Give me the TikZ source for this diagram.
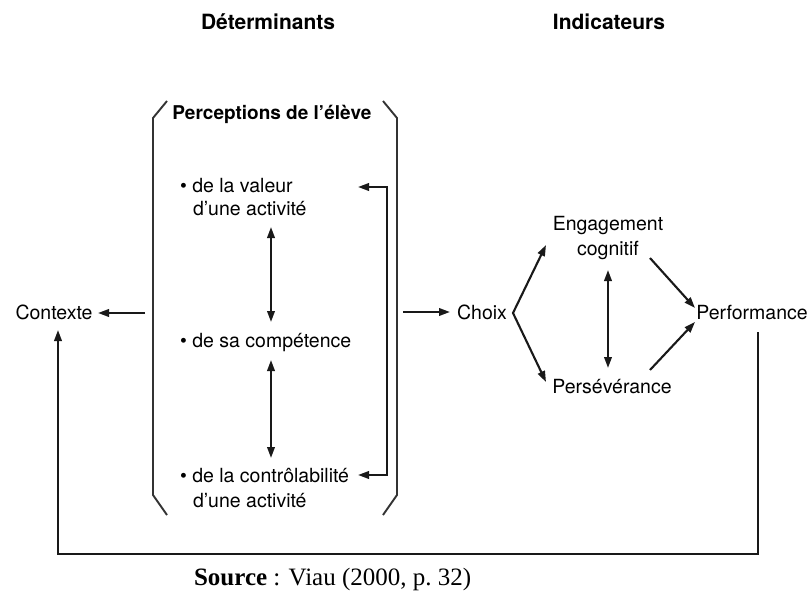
\documentclass[tikz,border=0pt]{standalone}
\usepackage{fontspec}
\setmainfont{TeX Gyre Heros}
\newfontfamily\srcfont{Liberation Serif}
\usetikzlibrary{arrows.meta}
\begin{document}
\begin{tikzpicture}[x=1pt,y=-1pt,
  line width=2.1pt, line join=miter, draw=black!90,
  tip/.tip={Triangle[length=11pt,width=7.5pt]},
  arr/.style={-tip},
  darr/.style={tip-tip},
  brk/.style={line width=1.9pt, draw=black!80},
  lbl/.style={inner sep=0pt,font=\fontsize{19.5}{23}\selectfont},
  ttl/.style={inner sep=0pt,font=\bfseries\fontsize{21}{25}\selectfont},
  hdr/.style={inner sep=0pt,font=\bfseries\fontsize{19}{23}\selectfont},
]
\useasboundingbox[fill=white] (0,0) rectangle (812,594);

% column titles
\node[ttl,anchor=base] (det) at (268,30) {Déterminants};
\node[ttl,anchor=base] (ind) at (609,30) {Indicateurs};

% bracket around the student's perceptions
\draw[brk] (167,101) -- (153,118) -- (153,495) -- (167,515);
\draw[brk] (383,101) -- (397,118) -- (397,495) -- (383,515);
\node[hdr,anchor=base] (perc) at (272,120) {Perceptions de l’élève};

% the three perceptions
\node[lbl,anchor=base west] (val1) at (179,192) {\textbullet\ de la valeur};
\node[lbl,anchor=base west] (val2) at (192,215) {d’une activité};
\node[lbl,anchor=base west] (comp) at (179,347) {\textbullet\ de sa compétence};
\node[lbl,anchor=base west] (ctl1) at (179,482) {\textbullet\ de la contrôlabilité};
\node[lbl,anchor=base west] (ctl2) at (192,507) {d’une activité};

\coordinate (a1) at (271,227);
\coordinate (a2) at (271,322);
\coordinate (a3) at (271,360);
\coordinate (a4) at (271,458);
\draw[darr] (a1) -- (a2);
\draw[darr] (a3) -- (a4);

\coordinate (r1) at (358,187);
\coordinate (r2) at (358,475);
\draw[darr] (r1) -- (387,187) -- (387,475) -- (r2);

% context and choice
\node[lbl,anchor=base] (ctx) at (54,319) {Contexte};
\coordinate (ctxin) at (98,313);
\coordinate (ctxout) at (145,313);
\draw[arr] (ctxout) -- (ctxin);

\node[lbl,anchor=base] (choix) at (482,319) {Choix};
\coordinate (chout) at (403,312);
\coordinate (chin) at (450,312);
\draw[arr] (chout) -- (chin);

% indicators
\node[lbl,anchor=base] (eng) at (608,230) {Engagement};
\node[lbl,anchor=base] (cog) at (608,255) {cognitif};
\node[lbl,anchor=base] (pers) at (612,393) {Persévérance};
\node[lbl,anchor=base] (perf) at (752,319) {Performance};

\coordinate (fork) at (513,313);
\coordinate (fup) at (546,245);
\coordinate (fdn) at (546,382);
\draw[darr] (fup) -- (fork) -- (fdn);

\coordinate (ep1) at (608,270);
\coordinate (ep2) at (608,368);
\draw[darr] (ep1) -- (ep2);

\coordinate (eo) at (650,258);
\coordinate (ei) at (695,308);
\coordinate (po) at (650,370);
\coordinate (pi) at (695,322);
\draw[arr] (eo) -- (ei);
\draw[arr] (po) -- (pi);

% feedback loop from performance back to context
\coordinate (fb1) at (758,332);
\coordinate (fb2) at (58,330);
\draw[arr] (fb1) -- (758,554) -- (58,554) -- (fb2);

% source line
\node[anchor=base west,inner sep=0pt,font=\srcfont\fontsize{25}{30}\selectfont] (src) at (193,585)
  {\textbf{Source} : Viau (2000, p.~32)};
\end{tikzpicture}
\end{document}
